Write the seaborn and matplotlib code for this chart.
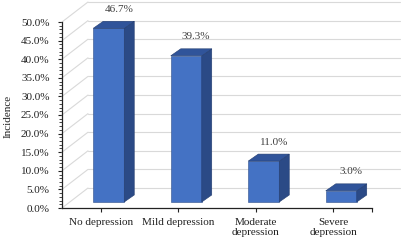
import numpy as np
import matplotlib
matplotlib.use('Agg')
import matplotlib.pyplot as plt
from matplotlib.patches import Polygon
from matplotlib.ticker import FuncFormatter, MultipleLocator
import seaborn as sns

# data
categories = ['No depression', 'Mild depression', 'Moderate\ndepression', 'Severe\ndepression']
incidence = [46.7, 39.3, 11.0, 3.0]
y_ticks = np.arange(0, 55, 5)

sns.set_style('white')
plt.rcParams['font.family'] = ['Liberation Serif', 'DejaVu Serif']

W, H = 401, 240
fig = plt.figure(figsize=(W / 100, H / 100), dpi=100)
# front plane of the fake 3D box, in pixels
left, right, bottom, top = 62, 372, 208, 22
ax = fig.add_axes([left / W, (H - bottom) / H, (right - left) / W, (bottom - top) / H])

ux = (right - left) / 4.0      # px per category
uy = (bottom - top) / 50.0     # px per percent

# back wall + left wall grid
wall_dx, wall_dy = 26 / ux, 20 / uy
x_left = -0.5
x_far = -0.5 + (W - 1 - left) / ux
for v in y_ticks:
    ax.plot([x_left, x_left + wall_dx], [v, v + wall_dy], color='#d9d9d9', lw=0.8,
            clip_on=False, zorder=1)
    ax.plot([x_left + wall_dx, x_far], [v + wall_dy, v + wall_dy], color='#d9d9d9',
            lw=0.8, clip_on=False, zorder=1)

# front faces
sns.barplot(x=categories, y=incidence, width=0.4, color='#4472c4', saturation=1,
            edgecolor='#2f4f8a', linewidth=0.4, ax=ax, zorder=3)

shift_x, shift_y = 8 / ux, 6 / uy
depth_x, depth_y = 10 / ux, 7 / uy
for p, val in zip(ax.patches, incidence):
    p.set_x(p.get_x() + shift_x)
    p.set_y(shift_y)
    p.set_clip_on(False)
    x0 = p.get_x()
    x1 = x0 + p.get_width()
    y0 = p.get_y()
    y1 = y0 + p.get_height()
    side = Polygon([(x1, y0), (x1 + depth_x, y0 + depth_y), (x1 + depth_x, y1 + depth_y), (x1, y1)],
                   closed=True, facecolor='#2b4a86', edgecolor='#233d70', lw=0.4,
                   clip_on=False, zorder=3)
    topf = Polygon([(x0, y1), (x1, y1), (x1 + depth_x, y1 + depth_y), (x0 + depth_x, y1 + depth_y)],
                   closed=True, facecolor='#30549a', edgecolor='#233d70', lw=0.4,
                   clip_on=False, zorder=3)
    ax.add_patch(side)
    ax.add_patch(topf)
    ax.annotate(f'{val:.1f}%', xy=((x0 + x1) / 2, y1), xytext=(10, 19),
                textcoords='offset pixels', ha='center', va='center',
                fontsize=8, color='#404040', annotation_clip=False)

ax.set_xlim(-0.5, 3.5)
ax.set_ylim(0, 50)
ax.set_yticks(y_ticks)
ax.yaxis.set_minor_locator(MultipleLocator(1))
ax.yaxis.set_major_formatter(FuncFormatter(lambda v, pos: f'{v:.1f}%'))
ax.set_xticks(range(len(categories)))
ax.set_xticklabels(categories)
ax.set_xticks([3.5], minor=True)
plt.setp(ax.get_xticklabels(), linespacing=1.05)

ax.tick_params(axis='y', which='major', direction='out', length=3, width=0.8, pad=6,
               labelsize=8, colors='#222222', left=True)
ax.tick_params(axis='y', which='minor', direction='out', length=2, width=0.6, left=True)
ax.tick_params(axis='x', which='both', direction='out', length=3, width=0.8, pad=4.5,
               labelsize=8, colors='#222222', bottom=True)

ax.set_xlabel('')
ax.set_ylabel('Incidence', fontsize=8, color='#222222')
ax.yaxis.set_label_coords((13 - left) / (right - left), 0.49)

for s in ['top', 'right']:
    ax.spines[s].set_visible(False)
for s in ['left', 'bottom']:
    ax.spines[s].set_color('#222222')
    ax.spines[s].set_linewidth(0.9)
ax.patch.set_alpha(0)

fig.savefig('out.png', dpi=100)
